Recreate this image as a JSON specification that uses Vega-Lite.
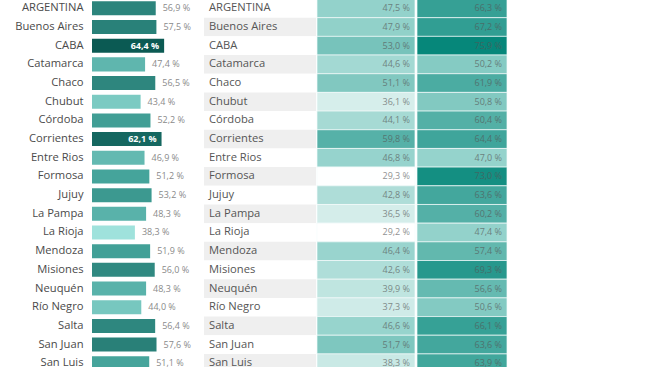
{
  "$schema": "https://vega.github.io/schema/vega-lite/v6.json",
  "padding": {"left": 14, "top": -2, "right": 0, "bottom": 0},
  "background": "white",
  "config": {"view": {"stroke": null}, "font": "Open Sans", "concat": {"spacing": 0}},
  "datasets": {
    "d": [
      {"name": "ARGENTINA", "bar": 56.9, "c1": 47.5, "c2": 66.3},
      {"name": "Buenos Aires", "bar": 57.5, "c1": 47.9, "c2": 67.2},
      {"name": "CABA", "bar": 64.4, "c1": 53.0, "c2": 75.9},
      {"name": "Catamarca", "bar": 47.4, "c1": 44.6, "c2": 50.2},
      {"name": "Chaco", "bar": 56.5, "c1": 51.1, "c2": 61.9},
      {"name": "Chubut", "bar": 43.4, "c1": 36.1, "c2": 50.8},
      {"name": "Córdoba", "bar": 52.2, "c1": 44.1, "c2": 60.4},
      {"name": "Corrientes", "bar": 62.1, "c1": 59.8, "c2": 64.4},
      {"name": "Entre Rios", "bar": 46.9, "c1": 46.8, "c2": 47.0},
      {"name": "Formosa", "bar": 51.2, "c1": 29.3, "c2": 73.0},
      {"name": "Jujuy", "bar": 53.2, "c1": 42.8, "c2": 63.6},
      {"name": "La Pampa", "bar": 48.3, "c1": 36.5, "c2": 60.2},
      {"name": "La Rioja", "bar": 38.3, "c1": 29.2, "c2": 47.4},
      {"name": "Mendoza", "bar": 51.9, "c1": 46.4, "c2": 57.4},
      {"name": "Misiones", "bar": 56.0, "c1": 42.6, "c2": 69.3},
      {"name": "Neuquén", "bar": 48.3, "c1": 39.9, "c2": 56.6},
      {"name": "Río Negro", "bar": 44.0, "c1": 37.3, "c2": 50.6},
      {"name": "Salta", "bar": 56.4, "c1": 46.6, "c2": 66.1},
      {"name": "San Juan", "bar": 57.6, "c1": 51.7, "c2": 63.6},
      {"name": "San Luis", "bar": 51.1, "c1": 38.3, "c2": 63.9}
    ]
  },
  "data": {"name": "d"},
  "spacing": 0,
  "resolve": {"scale": {"color": "independent", "y": "independent"}},
  "hconcat": [
    {
      "width": 112,
      "height": 373.6,
      "transform": [{"calculate": "replace(format(datum.bar,'.1f'),'.',',') + ' %'", "as": "bl"}],
      "encoding": {
        "y": {"field": "name", "type": "nominal", "sort": null,
          "scale": {"paddingInner": 0.25, "paddingOuter": 0.125},
          "axis": {"title": null, "ticks": false, "domain": false, "labelPadding": 9, "labelFontSize": 11.2, "labelColor": "#4a4a4a", "labelFont": "Open Sans"}}
      },
      "layer": [
        {"mark": {"type": "bar"},
          "encoding": {
            "x": {"field": "bar", "type": "quantitative", "scale": {"domain": [0, 100]}, "axis": null},
            "color": {"field": "bar", "type": "quantitative", "scale": {"domain": [38.3, 51, 64.4], "range": ["#9fe2dc", "#46a59c", "#0b5a53"], "interpolate": "rgb"}, "legend": null}
          }},
        {"transform": [{"filter": "datum.bar < 60"}],
          "mark": {"type": "text", "align": "left", "dx": 7, "fontSize": 9, "color": "#8a8a8a"},
          "encoding": {"x": {"field": "bar", "type": "quantitative"}, "text": {"field": "bl"}}},
        {"transform": [{"filter": "datum.bar >= 60"}],
          "mark": {"type": "text", "align": "right", "dx": -5, "fontSize": 9, "fontWeight": "bold", "color": "white"},
          "encoding": {"x": {"field": "bar", "type": "quantitative"}, "text": {"field": "bl"}}}
      ]
    },
    {
      "width": 112,
      "height": 373.6,
      "transform": [{"window": [{"op": "row_number", "as": "rn"}]}],
      "encoding": {"y": {"field": "name", "type": "nominal", "sort": null, "axis": null, "scale": {"paddingInner": 0, "paddingOuter": 0}}},
      "layer": [
        {"mark": {"type": "rect"},
          "encoding": {"color": {"condition": {"test": "datum.rn % 2 == 0", "value": "#efefef"}, "value": "#ffffff"}}},
        {"mark": {"type": "text", "align": "left", "dx": 5, "fontSize": 11.2, "color": "#555555"},
          "encoding": {"x": {"value": 0}, "text": {"field": "name"}}}
      ]
    },
    {
      "width": 98,
      "height": 373.6,
      "transform": [{"calculate": "replace(format(datum.c1,'.1f'),'.',',') + ' %'", "as": "lab"}],
      "encoding": {"y": {"field": "name", "type": "nominal", "sort": null, "axis": null, "scale": {"paddingInner": 0, "paddingOuter": 0}}},
      "layer": [
        {"mark": {"type": "rect", "stroke": "#f4fbfa", "strokeWidth": 0.7},
          "encoding": {"color": {"field": "c1", "type": "quantitative", "scale": {"domain": [29.2, 47, 75.9], "range": ["#ffffff", "#95d3cc", "#06877a"], "interpolate": "rgb"}, "legend": null}}},
        {"mark": {"type": "text", "align": "right", "dx": -5, "fontSize": 9, "color": "#555555", "opacity": 0.65},
          "encoding": {"x": {"value": "width"}, "text": {"field": "lab"}}}
      ]
    },
    {
      "width": 90,
      "height": 373.6,
      "transform": [{"calculate": "replace(format(datum.c2,'.1f'),'.',',') + ' %'", "as": "lab"}],
      "encoding": {"y": {"field": "name", "type": "nominal", "sort": null, "axis": null, "scale": {"paddingInner": 0, "paddingOuter": 0}}},
      "layer": [
        {"mark": {"type": "rect", "stroke": "#f4fbfa", "strokeWidth": 0.7},
          "encoding": {"color": {"field": "c2", "type": "quantitative", "scale": {"domain": [29.2, 47, 75.9], "range": ["#ffffff", "#95d3cc", "#06877a"], "interpolate": "rgb"}, "legend": null}}},
        {"mark": {"type": "text", "align": "right", "dx": -5, "fontSize": 9, "color": "#555555", "opacity": 0.65},
          "encoding": {"x": {"value": "width"}, "text": {"field": "lab"}}}
      ]
    }
  ]
}
